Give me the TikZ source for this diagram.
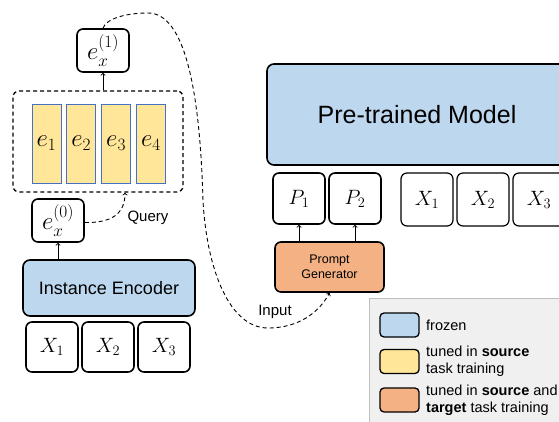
\documentclass[tikz,border=0pt]{standalone}
\usepackage{fontspec}
\setmainfont{Liberation Sans}
\usetikzlibrary{shapes,arrows}
\usetikzlibrary{positioning}
\definecolor{frozenblue}{RGB}{189,215,238}
\definecolor{srcyellow}{RGB}{255,230,153}
\definecolor{tgtorange}{RGB}{244,177,131}
\definecolor{edgeblue}{RGB}{68,114,196}
\tikzstyle{tok} = [draw, rounded corners=6pt, line width=1.6pt,
    minimum width=52pt, minimum height=50pt, inner sep=0pt,
    font=\fontsize{22}{24}\selectfont]
\tikzstyle{block} = [draw, rounded corners=7pt, line width=1.6pt,
    fill=frozenblue, inner sep=0pt]
\tikzstyle{emb} = [draw=edgeblue, line width=0.8pt, fill=srcyellow,
    minimum width=29pt, minimum height=79pt, inner sep=0pt,
    font=\fontsize{25}{27}\selectfont]
\tikzstyle{swatch} = [draw, rounded corners=4pt, line width=1.3pt,
    minimum width=39pt, minimum height=24pt, inner sep=0pt]
\tikzstyle{legtext} = [align=left, font=\fontsize{14.5}{17}\selectfont]
\tikzstyle{dashline} = [dash pattern=on 4pt off 3pt, line width=0.9pt]
\newcommand{\qvec}[1]{e_x^{\raisebox{3pt}{$\scriptstyle(#1)$}}}

\begin{document}
\begin{tikzpicture}[x=1pt, y=1pt, node distance=56pt, >=to]
    \clip (0,0) rectangle (559,421);

    % left: instance encoder side
    \node [tok] (x1) at (52,74) {$X_1$};
    \node [tok, right of=x1] (x2) {$X_2$};
    \node [tok, right of=x2] (x3) {$X_3$};
    \node [block, minimum width=172pt, minimum height=56pt,
        font=\fontsize{18}{20}\selectfont] (enc) at (109,133) {Instance Encoder};
    \node [tok, minimum height=43pt, font=\fontsize{24}{26}\selectfont] (ex0) at (58,200.5) {$\qvec{0}$};
    \node [draw, dash pattern=on 4pt off 3pt, rounded corners=6pt, line width=1.3pt,
        minimum width=170pt, minimum height=101pt] (pool) at (98,279.5) {};
    \node [emb] (e1) at (46.5,277.5) {$e_1$};
    \node [emb, right of=e1, node distance=34.8pt] (e2) {$e_2$};
    \node [emb, right of=e2, node distance=34.8pt] (e3) {$e_3$};
    \node [emb, right of=e3, node distance=34.8pt] (e4) {$e_4$};
    \node [tok, minimum height=43pt, font=\fontsize{24}{26}\selectfont] (ex1) at (103,370.5) {$\qvec{1}$};

    % right: pre-trained model side
    \node [block, minimum width=300pt, minimum height=101pt,
        font=\fontsize{25}{28}\selectfont] (ptm) at (417,306.5) {Pre-trained Model};
    \node [tok, minimum height=51pt] (p1) at (299,222.5) {$P_1$};
    \node [tok, minimum height=51pt, right of=p1] (p2) {$P_2$};
    \node [tok, line width=1.2pt, minimum height=53pt] (rx1) at (427,221.5) {$X_1$};
    \node [tok, line width=1.2pt, minimum height=53pt, right of=rx1] (rx2) {$X_2$};
    \node [tok, line width=1.2pt, minimum height=53pt, right of=rx2] (rx3) {$X_3$};
    \node [draw, rounded corners=6pt, line width=1.6pt, fill=tgtorange,
        minimum width=109pt, minimum height=50pt, align=center,
        font=\fontsize{12.5}{14.5}\selectfont] (pg) at (329.5,154) {Prompt\\Generator};

    % legend
    \node [draw=gray!50, fill=gray!12, minimum width=200pt, minimum height=140pt,
        anchor=north west] (legend) at (369,123) {};
    \node [swatch, fill=frozenblue] (sw1) at (399.5,96) {};
    \node [swatch, fill=srcyellow] (sw2) at (399.5,59.5) {};
    \node [swatch, fill=tgtorange] (sw3) at (399.5,21) {};
    \node [legtext, right=3pt of sw1] (l1) {frozen};
    \node [legtext, right=3pt of sw2] (l2) {tuned in \textbf{source}\\task training};
    \node [legtext, right=3pt of sw3] (l3) {tuned in \textbf{source} and\\\textbf{target} task training};

    % solid arrows
    \draw [->, line width=0.9pt] (enc.north -| ex0.south) -- (ex0.south);
    \draw [->, line width=0.9pt] (ex1.south |- pool.north) -- (ex1.south);
    \draw [->, line width=0.9pt] (p1.south |- pg.north) -- (p1.south);
    \draw [->, line width=0.9pt] (p2.south |- pg.north) -- (p2.south);

    % dashed connectors
    \draw [dashline, ->] ([yshift=-2pt]ex0.east) .. controls (110,198) and (125,206) .. ([xshift=27pt]pool.south);
    \node [font=\fontsize{15}{17}\selectfont] (query) at (148,203) {Query};
    \draw [dashline, ->] (ex1.north) .. controls (106,402) and (125,408) .. (148,408)
        .. controls (185,408) and (200,330) .. (203,220)
        .. controls (207,150) and (230,93) .. (268,93)
        .. controls (300,93) and (320,110) .. (pg.south);
    \node [font=\fontsize{15}{17}\selectfont] (input) at (275,109) {Input};
\end{tikzpicture}
\end{document}
